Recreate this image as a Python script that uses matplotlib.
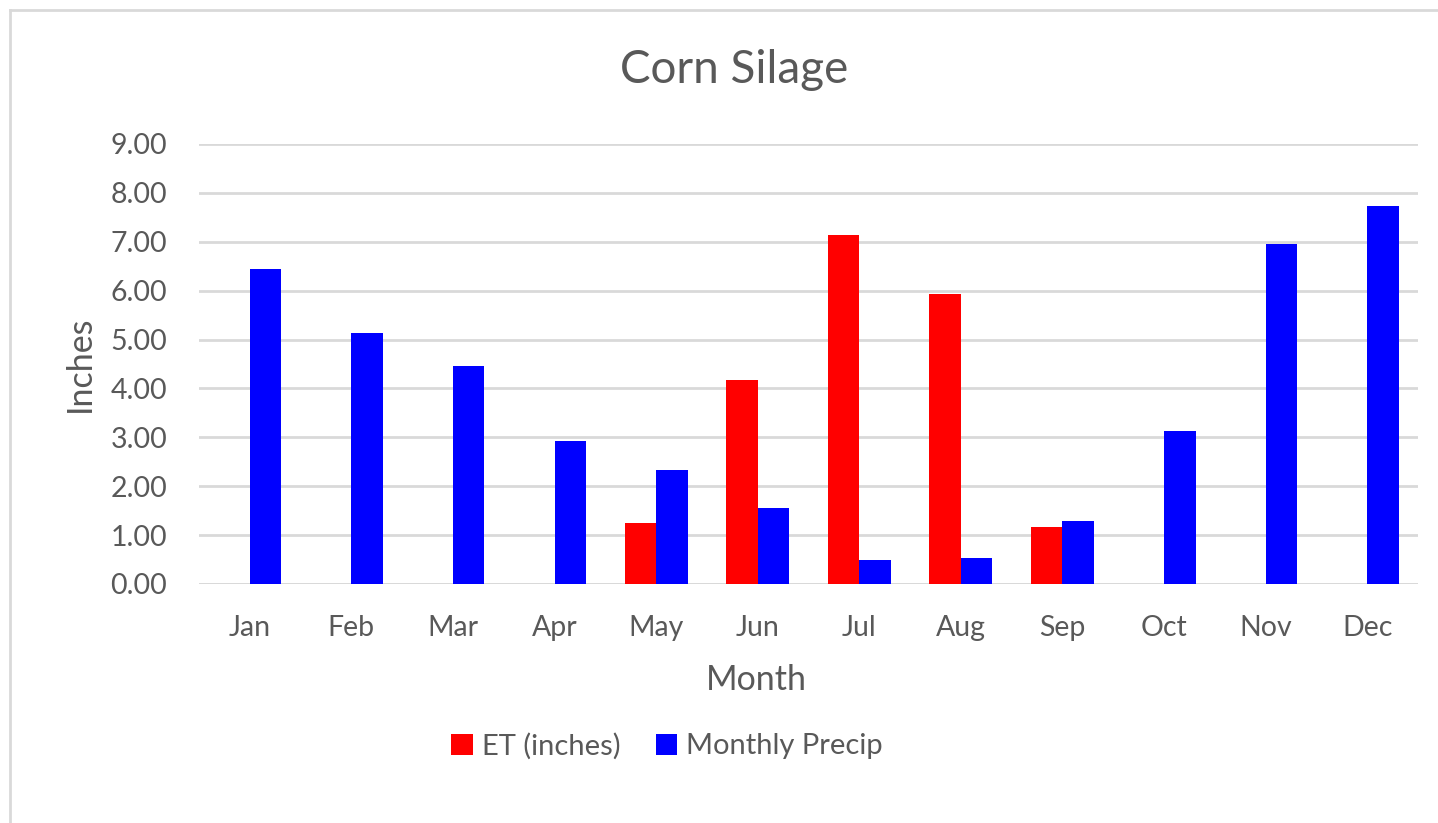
"""Corn Silage: monthly ET vs precipitation, clustered bars."""
import matplotlib

matplotlib.use("Agg")
import matplotlib.pyplot as plt
import numpy as np
from matplotlib.lines import Line2D
from matplotlib.patches import Patch

plt.rcParams["font.family"] = ["Lato", "DejaVu Sans"]

MONTHS = ["Jan", "Feb", "Mar", "Apr", "May", "Jun",
          "Jul", "Aug", "Sep", "Oct", "Nov", "Dec"]
ET_INCHES = [0, 0, 0, 0, 1.25, 4.17, 7.14, 5.93, 1.17, 0, 0, 0]
MONTHLY_PRECIP = [6.44, 5.14, 4.46, 2.92, 2.33, 1.55, 0.49, 0.53, 1.29, 3.13, 6.95, 7.73]

TEXT = "#595959"
GRID = "#d9d9d9"
RED = "#ff0000"
BLUE = "#0000ff"

W, H = 1438, 823
fig = plt.figure(figsize=(W / 100, H / 100), dpi=100)
ax = fig.add_axes([199 / W, 1 - 584 / H, (1418 - 199) / W, (584 - 144) / H])

x = np.arange(len(MONTHS))
bw = 0.31
et = np.array(ET_INCHES, dtype=float)
ax.bar(x[et > 0] - bw / 2, et[et > 0], width=bw, color=RED, zorder=3)
ax.bar(x + bw / 2, MONTHLY_PRECIP, width=bw, color=BLUE, zorder=3)

ax.set_xlim(-0.5, len(MONTHS) - 0.5)
ax.set_ylim(0, 9)
ax.set_yticks(np.arange(0, 10, 1))
ax.set_yticklabels([f"{v:.2f}" for v in range(10)])
ax.set_xticks(x)
ax.set_xticklabels(MONTHS)
ax.tick_params(axis="both", length=0, labelsize=20.5, colors=TEXT)
ax.tick_params(axis="y", pad=23)
ax.tick_params(axis="x", pad=22)
ax.grid(axis="y", color=GRID, linewidth=2, zorder=0)
for s in ax.spines.values():
    s.set_visible(False)
ax.axhline(0, color=GRID, linewidth=2, zorder=2)

fig.text(734 / W, 1 - 70 / H, "Corn Silage", ha="center", va="center",
         fontsize=33, color=TEXT)
fig.text(80 / W, 1 - 364 / H, "Inches", ha="center", va="center",
         rotation=90, fontsize=24.5, color=TEXT)
fig.text(756 / W, 1 - 680 / H, "Month", ha="center", va="center",
         fontsize=24.5, color=TEXT)

handles = [Patch(facecolor=RED, label="ET (inches)"),
           Patch(facecolor=BLUE, label="Monthly Precip")]
fig.legend(handles=handles, loc="center", bbox_to_anchor=(667 / W, 1 - 746 / H),
           ncol=2, frameon=False, fontsize=21, labelcolor=TEXT,
           handlelength=0.75, handleheight=0.75, handletextpad=0.3,
           columnspacing=1.2)

# light frame around the chart area (left and top visible)
fig.add_artist(Line2D([10 / W, 10 / W], [0, 1 - 10 / H], color="#d9d9d9",
                      linewidth=2, transform=fig.transFigure))
fig.add_artist(Line2D([10 / W, 1], [1 - 10 / H, 1 - 10 / H], color="#d9d9d9",
                      linewidth=2, transform=fig.transFigure))

fig.savefig("out.png", dpi=100)
